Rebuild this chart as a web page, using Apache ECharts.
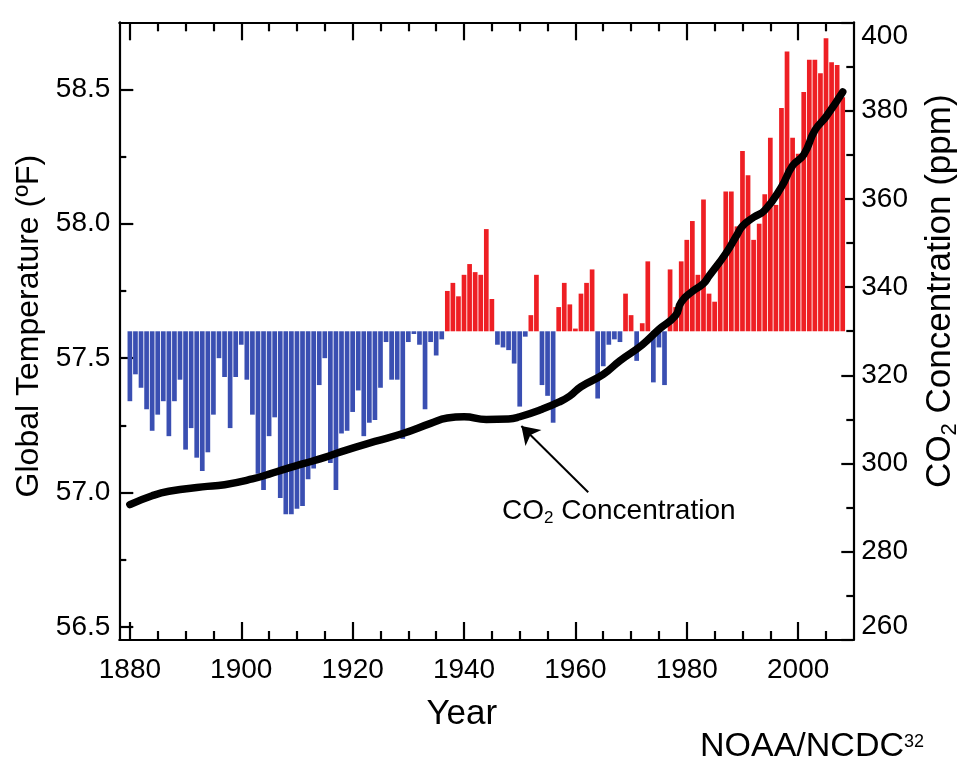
<!DOCTYPE html>
<html>
<head>
<meta charset="utf-8">
<script src="https://cdn.jsdelivr.net/npm/echarts@6/dist/echarts.min.js"></script>
<style>
html,body{margin:0;padding:0;background:#ffffff;}
#chart{width:980px;height:782px;}
</style>
</head>
<body>
<div id="chart"></div>
<script>
// ---------------- DATA ----------------
const years = [1880,1881,1882,1883,1884,1885,1886,1887,1888,1889,
1890,1891,1892,1893,1894,1895,1896,1897,1898,1899,
1900,1901,1902,1903,1904,1905,1906,1907,1908,1909,
1910,1911,1912,1913,1914,1915,1916,1917,1918,1919,
1920,1921,1922,1923,1924,1925,1926,1927,1928,1929,
1930,1931,1932,1933,1934,1935,1936,1937,1938,1939,
1940,1941,1942,1943,1944,1945,1946,1947,1948,1949,
1950,1951,1952,1953,1954,1955,1956,1957,1958,1959,
1960,1961,1962,1963,1964,1965,1966,1967,1968,1969,
1970,1971,1972,1973,1974,1975,1976,1977,1978,1979,
1980,1981,1982,1983,1984,1985,1986,1987,1988,1989,
1990,1991,1992,1993,1994,1995,1996,1997,1998,1999,
2000,2001,2002,2003,2004,2005,2006,2007,2008];

// Global temperature (°F), one bar per year
const temperatureF = [57.34,57.44,57.39,57.31,57.23,57.29,57.34,57.21,57.34,57.42,
57.16,57.24,57.13,57.08,57.15,57.29,57.50,57.43,57.24,57.43,
57.55,57.42,57.29,57.07,57.01,57.21,57.28,56.98,56.92,56.92,
56.94,56.95,57.05,57.09,57.40,57.50,57.11,57.01,57.22,57.23,
57.30,57.38,57.21,57.26,57.27,57.39,57.56,57.42,57.42,57.20,
57.56,57.59,57.55,57.31,57.56,57.51,57.57,57.75,57.78,57.73,
57.81,57.85,57.82,57.81,57.98,57.72,57.55,57.54,57.53,57.48,
57.32,57.58,57.66,57.81,57.40,57.36,57.26,57.69,57.78,57.70,
57.61,57.74,57.78,57.83,57.35,57.47,57.55,57.57,57.56,57.74,
57.66,57.49,57.63,57.86,57.41,57.54,57.40,57.83,57.69,57.86,
57.94,58.01,57.81,58.09,57.74,57.71,57.85,58.12,58.12,57.99,
58.27,58.18,57.94,58.00,58.11,58.32,58.07,58.43,58.64,58.32,
58.26,58.49,58.61,58.61,58.56,58.69,58.60,58.59,58.47];

// CO2 concentration (ppm)
const co2Years = [1880,1884,1887,1893,1897,1902,1905,1908,1911,1915,
1918,1924,1929,1934,1937,1940,1944,1948,1950,1954,
1957,1959,1961,1965,1968,1972,1975,1978,1979,1981,
1983,1984,1987,1989,1990,1992,1994,1997,1999,2001,
2003,2005,2008];
const co2ppm = [290.7,292.7,293.7,294.7,295.2,296.5,297.6,298.8,299.9,301.4,
302.7,305.0,306.8,309.1,310.3,310.6,310.0,310.1,310.6,312.3,
313.9,315.3,317.4,320.2,323.3,326.9,330.4,333.6,336.6,339.0,
340.8,342.5,347.6,351.8,353.8,355.8,357.4,362.7,367.5,370.0,
375.5,378.6,384.2];

// Tick labels
const yearTicks = [1880,1900,1920,1940,1960,1980,2000];
const yearMinorTicks = [1885,1890,1895,1905,1910,1915,1925,1930,1935,1945,1950,1955,1965,1970,1975,1985,1990,1995,2005];
const tempTicks = [56.5,57.0,57.5,58.0,58.5];
const tempMinorTicks = [56.75,57.25,57.75,58.25];
const co2Ticks = [260,280,300,320,340,360,380,400];
const co2MinorTicks = [270,290,310,330,350,370,390];

const baselineF = 57.6;

// ---------------- LAYOUT / STYLE ----------------
const FONT = '"Liberation Sans", Arial, Helvetica, sans-serif';
const X_MIN = 1878.1, X_MAX = 2009.9;
const T_MIN = 56.452, T_MAX = 58.749;
const C_MIN = 260, C_MAX = 400;
const RED = '#ee1f24', BLUE = '#3a4fb2';
const AXW = 2.2;

function tickAxisX(position, values, len, withLine) {
  return {
    type: 'value', position: position, min: X_MIN, max: X_MAX,
    axisLine: {show: withLine, onZero: false, lineStyle: {color: '#000', width: AXW}},
    axisTick: {show: true, inside: true, length: len, customValues: values, lineStyle: {color: '#000', width: AXW}},
    axisLabel: {show: false}, splitLine: {show: false}
  };
}
function tickAxisY(position, min, max, values, len, withLine) {
  return {
    type: 'value', position: position, min: min, max: max,
    axisLine: {show: withLine, onZero: false, lineStyle: {color: '#000', width: AXW}},
    axisTick: {show: true, inside: true, length: len, customValues: values, lineStyle: {color: '#000', width: AXW}},
    axisLabel: {show: false}, splitLine: {show: false}
  };
}

const xMain = tickAxisX('bottom', yearTicks, 18, true);
xMain.axisLabel = {show: true, customValues: yearTicks, fontSize: 28, color: '#000', fontFamily: FONT, margin: 16,
  formatter: v => String(Math.round(v))};
xMain.name = 'Year';
xMain.nameLocation = 'middle';
xMain.nameGap = 57;
xMain.nameTextStyle = {fontSize: 35, color: '#000', fontFamily: FONT, padding: [0, 49, 0, 0]};

const yLeft = tickAxisY('left', T_MIN, T_MAX, tempTicks, 14, true);
yLeft.axisLabel = {show: true, customValues: tempTicks, fontSize: 28, color: '#000', fontFamily: FONT, margin: 9,
  formatter: v => v.toFixed(1)};
yLeft.name = 'Global Temperature (ºF)';
yLeft.nameLocation = 'middle';
yLeft.nameRotate = 90;
yLeft.nameGap = 74;
yLeft.nameTextStyle = {fontSize: 32, color: '#000', fontFamily: FONT, padding: [0, 0, 0, 10]};

const yRight = tickAxisY('right', C_MIN, C_MAX, co2Ticks, 12, true);
yRight.axisLabel = {show: true, customValues: co2Ticks, fontSize: 28, color: '#000', fontFamily: FONT, margin: 8,
  verticalAlignMinLabel: 'bottom', verticalAlignMaxLabel: 'top'};
yRight.name = 'CO{s|2} Concentration (ppm)';
yRight.nameLocation = 'middle';
yRight.nameRotate = 90;
yRight.nameGap = 62;
yRight.nameTextStyle = {fontSize: 35, color: '#000', fontFamily: FONT, lineHeight: 42, padding: [0, 0, 0, 80],
  rich: {s: {fontSize: 22, lineHeight: 22, verticalAlign: 'bottom', fontFamily: FONT, color: '#000'}}};

const option = {
  animation: false,
  backgroundColor: '#ffffff',
  grid: {left: 119.3, right: 126.7, top: 22.3, bottom: 142, containLabel: false},
  xAxis: [
    xMain,
    tickAxisX('bottom', yearMinorTicks, 9, false),
    tickAxisX('top', yearTicks, 18, true),
    tickAxisX('top', yearMinorTicks, 9, false)
  ],
  yAxis: [
    yLeft,
    tickAxisY('left', T_MIN, T_MAX, tempMinorTicks, 7, false),
    yRight,
    tickAxisY('right', C_MIN, C_MAX, co2MinorTicks, 7, false),
    {type: 'value', show: false, min: T_MIN - baselineF, max: T_MAX - baselineF,
     axisLine: {onZero: false}, splitLine: {show: false}}
  ],
  series: [
    {
      name: 'Global Temperature', type: 'bar', xAxisIndex: 0, yAxisIndex: 4,
      barWidth: 4.7, z: 2,
      data: years.map((y, i) => ({
        value: [y, +(temperatureF[i] - baselineF).toFixed(3)],
        itemStyle: {color: temperatureF[i] >= baselineF ? RED : BLUE}
      }))
    },
    {
      name: 'CO2 Concentration', type: 'line', xAxisIndex: 0, yAxisIndex: 2,
      data: co2Years.map((y, i) => [y, co2ppm[i]]),
      smooth: 0.5, symbol: 'none', z: 5,
      lineStyle: {color: '#000', width: 7.5, cap: 'round', join: 'round'},
      markLine: {
        silent: true, symbol: ['none', 'arrow'], symbolSize: 17, animation: false,
        label: {show: false},
        lineStyle: {color: '#000', width: 2, type: 'solid'},
        data: [[{coord: [1962.3, 293.5]}, {coord: [1950.3, 308.5]}]]
      }
    }
  ],
  graphic: [
    {type: 'text', left: 502, top: 495, z: 10,
     style: {text: 'CO{s|2} Concentration', fontSize: 28, fontFamily: FONT, fill: '#000', lineHeight: 32,
       rich: {s: {fontSize: 17, lineHeight: 17, verticalAlign: 'bottom', fontFamily: FONT, fill: '#000'}}}},
    {type: 'text', left: 700, top: 730, z: 10,
     style: {text: 'NOAA/NCDC{p|32}', fontSize: 34, fontFamily: FONT, fill: '#000', lineHeight: 28,
       rich: {p: {fontSize: 18, lineHeight: 17, verticalAlign: 'top', fontFamily: FONT, fill: '#000'}}}}
  ]
};

const chart = echarts.init(document.getElementById('chart'), null, {renderer: 'canvas'});
chart.setOption(option);
</script>
</body>
</html>
